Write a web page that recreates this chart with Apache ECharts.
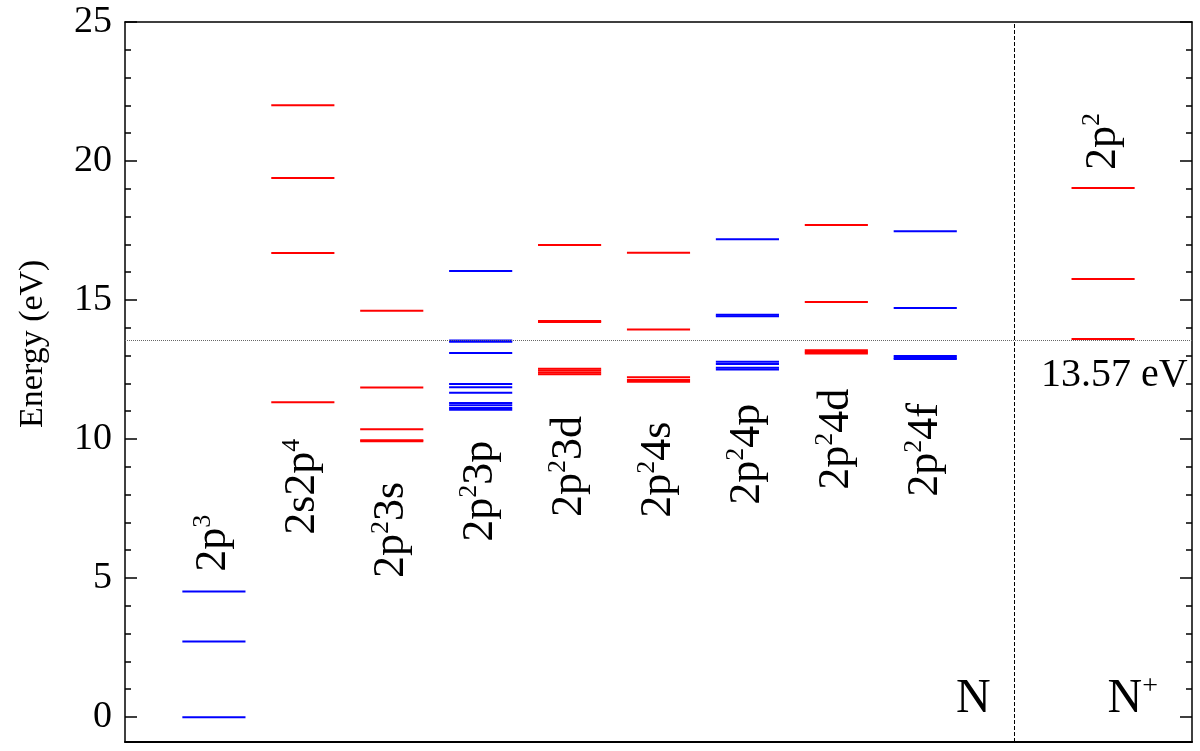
<!DOCTYPE html>
<html>
<head>
<meta charset="utf-8">
<title>N levels</title>
<script src="https://cdn.jsdelivr.net/npm/echarts@6/dist/echarts.min.js"></script>
<style>
html, body { margin: 0; padding: 0; background: #fff; }
#chart { width: 1200px; height: 751px; }
</style>
</head>
<body>
<div id="chart"></div>
<script>
// configurations, left to right (N columns 0..8, N+ at column 10)
const configs = ['2p{s|3}', '2s2p{s|4}', '2p{s|2}3s', '2p{s|2}3p', '2p{s|2}3d',
  '2p{s|2}4s', '2p{s|2}4p', '2p{s|2}4d', '2p{s|2}4f', '2p{s|2}'];
const configColumn = [0, 1, 2, 3, 4, 5, 6, 7, 8, 10];
const configColor = ['blue', 'red', 'red', 'blue', 'red', 'red', 'blue', 'red', 'blue', 'red'];
// energy at which each rotated label starts (eV)
const labelStart = [5.23, 6.56, 5.01, 6.31, 7.2, 7.17, 7.64, 8.18, 7.93, 19.68];

// level energies (eV)
const lv2p3 = [0, 2.72, 4.52];
const lv2s2p4 = [11.33, 16.69, 19.39, 22.01];
const lv2p23s = [9.92, 9.96, 10.36, 11.86, 14.62];
const lv2p23p = [11.06, 11.12, 11.22, 11.3, 11.67, 11.87, 11.98, 13.1, 13.5, 13.55, 16.05];
const lv2p23d = [12.33, 12.4, 12.47, 12.53, 14.21, 14.25, 16.98];
const lv2p24s = [12.06, 12.13, 12.23, 13.94, 16.7];
const lv2p24p = [12.5, 12.57, 12.7, 12.78, 14.42, 14.47, 17.19];
const lv2p24d = [13.08, 13.13, 13.2, 14.93, 17.7];
const lv2p24f = [12.88, 12.93, 12.99, 14.72, 17.48];
const lvIon2p2 = [13.6, 15.76, 19.03];
const levels = [lv2p3, lv2s2p4, lv2p23s, lv2p23p, lv2p23d, lv2p24s, lv2p24p, lv2p24d, lv2p24f, lvIon2p2];

const ionLimit = 13.57;
const divider = 9;

// free-standing notes (axis title sits left of the frame)
const notes = ['13.57 eV', 'N', 'N{s|+}', 'Energy (eV)'];
const noteX = [10.95, 8.54, 10.05, -2.03];
const noteY = [12.28, 0.66, 0.66, 13.43];
const noteAlign = ['right', 'center', 'left', 'center'];
const noteSize = [40, 48, 48, 34];
const noteRotate = [0, 0, 0, 90];

const yTicks = [0, 5, 10, 15, 20, 25];

const COLORS = { blue: '#0000ff', red: '#ff0000' };
const HALF = 0.355;
const SERIF = 'Liberation Serif';

const levelData = [];
levels.forEach(function (list, i) {
  list.forEach(function (e) {
    levelData.push([configColumn[i], e, i]);
  });
});
const labelData = configs.map(function (c, i) { return [configColumn[i], labelStart[i], i]; });
const noteData = notes.map(function (n, i) { return [noteX[i], noteY[i], i]; });

function frameAxis(grid, pos, width) {
  return {
    gridIndex: grid, type: 'value', position: pos,
    axisLine: { onZero: false, lineStyle: { color: '#000', width: width } },
    axisTick: { show: false }, axisLabel: { show: false }, splitLine: { show: false }
  };
}

let myChart = echarts.init(document.getElementById('chart'));
myChart.setOption({
  animation: false,
  grid: [
    { left: 125, right: 8, top: 22, height: 720 },
    { left: 125, right: 8, top: 22, height: 695 }
  ],
  xAxis: [
    Object.assign(frameAxis(0, 'bottom', 2), { min: -1, max: 11 }),
    Object.assign(frameAxis(0, 'top', 1.5), { min: -1, max: 11 }),
    { gridIndex: 1, type: 'value', min: -1, max: 11, show: false }
  ],
  yAxis: [
    Object.assign(frameAxis(0, 'left', 1.5), { min: -0.89, max: 25 }),
    Object.assign(frameAxis(0, 'right', 1.5), { min: -0.89, max: 25 }),
    {
      gridIndex: 1, type: 'value', min: yTicks[0], max: yTicks[yTicks.length - 1], interval: 5,
      position: 'left',
      axisLine: { show: false, onZero: false },
      axisTick: { inside: true, length: 12, lineStyle: { color: '#000', width: 1.5 } },
      minorTick: { show: true, splitNumber: 5, length: 6, lineStyle: { color: '#000', width: 1.5 } },
      axisLabel: { fontSize: 38, fontFamily: SERIF, color: '#000', margin: 13 },
      splitLine: { show: false }
    },
    {
      gridIndex: 1, type: 'value', min: yTicks[0], max: yTicks[yTicks.length - 1], interval: 5,
      position: 'right',
      axisLine: { show: false, onZero: false },
      axisTick: { inside: true, length: 12, lineStyle: { color: '#000', width: 1.5 } },
      minorTick: { show: true, splitNumber: 5, length: 6, lineStyle: { color: '#000', width: 1.5 } },
      axisLabel: { show: false },
      splitLine: { show: false }
    }
  ],
  series: [
    {
      type: 'custom', name: 'levels', xAxisIndex: 0, yAxisIndex: 0,
      data: levelData, silent: true,
      renderItem: function (params, api) {
        const x = api.value(0), e = api.value(1);
        const p1 = api.coord([x - HALF, e]);
        const p2 = api.coord([x + HALF, e]);
        return {
          type: 'line',
          shape: { x1: p1[0], y1: p1[1], x2: p2[0], y2: p2[1] },
          style: { stroke: COLORS[configColor[api.value(2)]], lineWidth: 2 }
        };
      },
      markLine: {
        silent: true, symbol: 'none', label: { show: false },
        data: [
          { yAxis: ionLimit, lineStyle: { type: 'dotted', color: '#666', width: 1 } },
          { xAxis: divider, lineStyle: { type: 'dashed', color: '#000', width: 1 } }
        ]
      }
    },
    {
      type: 'custom', name: 'configs', xAxisIndex: 0, yAxisIndex: 0,
      data: labelData, silent: true,
      renderItem: function (params, api) {
        const p = api.coord([api.value(0), api.value(1)]);
        const t = configs[api.value(2)].replace(/^([^{]+)/, '{b|$1}').replace(/\}([^{}]+)$/, '}{b|$1}');
        return {
          type: 'text', x: p[0], y: p[1], rotation: Math.PI / 2,
          style: {
            text: t, fontSize: 44, fontFamily: SERIF, fill: '#000',
            rich: {
              b: { fontSize: 44, fontFamily: SERIF, lineHeight: 48, color: '#000' },
              s: { fontSize: 26, fontFamily: SERIF, lineHeight: 26, verticalAlign: 'top', color: '#000' }
            },
            align: 'left', verticalAlign: 'middle'
          }
        };
      }
    },
    {
      type: 'custom', name: 'notes', xAxisIndex: 0, yAxisIndex: 0,
      data: noteData, silent: true, clip: false,
      renderItem: function (params, api) {
        const i = api.value(2);
        const p = api.coord([api.value(0), api.value(1)]);
        const size = noteSize[i];
        return {
          type: 'text', x: p[0], y: p[1], rotation: noteRotate[i] * Math.PI / 180,
          style: {
            text: notes[i].replace(/^([^{]+)/, '{b|$1}'),
            fontSize: size, fontFamily: SERIF, fill: '#000',
            rich: {
              b: { fontSize: size, fontFamily: SERIF, lineHeight: size + 4, color: '#000' },
              s: { fontSize: 28, fontFamily: SERIF, lineHeight: 28, verticalAlign: 'top', color: '#000' }
            },
            align: noteAlign[i], verticalAlign: 'middle'
          }
        };
      }
    }
  ]
});
</script>
</body>
</html>
